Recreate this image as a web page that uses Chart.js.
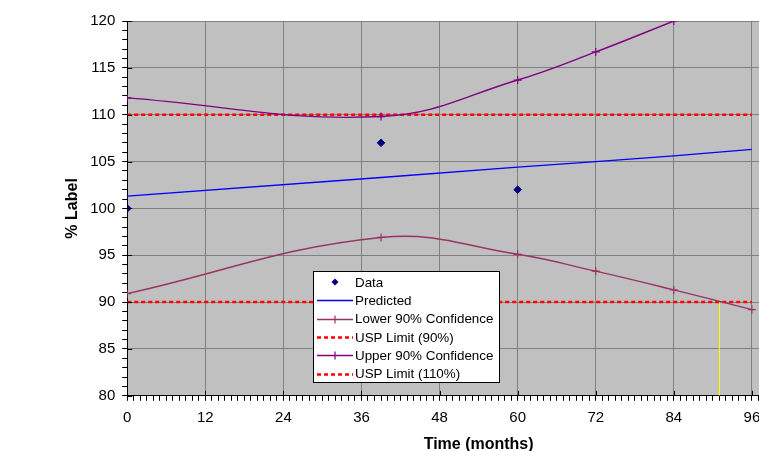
<!DOCTYPE html>
<html>
<head>
<meta charset="utf-8">
<script src="https://cdn.jsdelivr.net/npm/chart.js@4.4.1/dist/chart.umd.min.js"></script>
<style>
    html, body { margin: 0; padding: 0; background: #fff; overflow: hidden; }
    #wrap { position: relative; width: 759px; height: 451px; overflow: hidden; }
    #wrap canvas { position: absolute; left: 0; top: 0; }
    #legend {
        position: absolute; left: 313px; top: 271px; width: 187px; height: 112px;
        box-sizing: border-box; border: 1px solid #000; background: #fff;
        font-family: "Liberation Sans", Arial, sans-serif; font-size: 13.4px; color: #000;
        padding-top: 1px;
    }
    #legend .row { display: flex; align-items: center; height: 18.3px; }
    #legend canvas { position: static; display: block; margin: 0 2px 0 3px; }
</style>
</head>
<body>
<div id="wrap">
    <canvas id="chart" width="860" height="451"></canvas>
    <div id="legend"></div>
</div>
<script>
// Values
const timeMonths = [0, 39, 60, 72, 84, 96];
const dataTimes = [0, 39, 60];
const dataValues = [100, 107, 102];
const predictedValues = [101.3, 103.3, 104.4, 105.0, 105.6, 106.3];
const lowerConfidence = [90.9, 96.9, 95.1, 93.3, 91.3, 89.2];
const upperConfidence = [111.8, 109.8, 113.7, 116.7, 120.0, 123.3];
const uspLimitLow = [90, 90];
const uspLimitHigh = [110, 110];
const uspTimes = [0, 96];
const shelfLifeTimes = [91, 91];
const shelfLifeValues = [80, 90];

const colors = {
    data: '#000080',
    predicted: '#0000FF',
    lower: '#993366',
    upper: '#800080',
    usp: '#FF0000',
    shelf: '#FFFF00',
    grid: '#808080',
    plot: '#C0C0C0'
};

const toPoints = (xs, ys) => xs.map((x, i) => ({ x: x, y: ys[i] }));

const datasets = [
    {
        label: 'Data',
        data: toPoints(dataTimes, dataValues),
        showLine: false,
        pointStyle: 'rectRot',
        pointRadius: 3.8,
        backgroundColor: colors.data,
        borderColor: colors.data,
        borderWidth: 1
    },
    {
        label: 'Predicted',
        data: toPoints(timeMonths, predictedValues),
        borderColor: colors.predicted,
        borderWidth: 1.3,
        pointRadius: 0
    },
    {
        label: 'Lower 90% Confidence',
        data: toPoints(timeMonths, lowerConfidence),
        borderColor: colors.lower,
        borderWidth: 1.4,
        tension: 0.4,
        pointStyle: 'cross',
        pointRadius: 4,
        pointBorderColor: colors.lower,
        pointBorderWidth: 1.2
    },
    {
        label: 'USP Limit (90%)',
        data: toPoints(uspTimes, uspLimitLow),
        borderColor: colors.usp,
        borderWidth: 2.5,
        borderDash: [4, 3],
        pointRadius: 0
    },
    {
        label: 'Upper 90% Confidence',
        data: toPoints(timeMonths, upperConfidence),
        borderColor: colors.upper,
        borderWidth: 1.4,
        tension: 0.4,
        pointStyle: 'cross',
        pointRadius: 4,
        pointBorderColor: colors.upper,
        pointBorderWidth: 1.2
    },
    {
        label: 'USP Limit (110%)',
        data: toPoints(uspTimes, uspLimitHigh),
        borderColor: colors.usp,
        borderWidth: 2.5,
        borderDash: [4, 3],
        pointRadius: 0
    },
    {
        label: 'Shelf life',
        data: toPoints(shelfLifeTimes, shelfLifeValues),
        borderColor: colors.shelf,
        borderWidth: 1,
        pointRadius: 0
    }
];

// gray plot background
const plotBackground = {
    id: 'plotBackground',
    beforeDraw(chart) {
        const { ctx, chartArea } = chart;
        ctx.save();
        ctx.fillStyle = colors.plot;
        ctx.fillRect(chartArea.left, chartArea.top, chartArea.right - chartArea.left, chartArea.bottom - chartArea.top);
        ctx.restore();
    }
};

// major ticks cross the axis (inner half)
const crossTicks = {
    id: 'crossTicks',
    afterDraw(chart) {
        const { ctx, chartArea, scales } = chart;
        ctx.save();
        ctx.strokeStyle = '#000';
        ctx.lineWidth = 1;
        ctx.beginPath();
        scales.x.ticks.forEach(t => {
            if (t.value % 12 !== 0) return;
            const px = Math.round(scales.x.getPixelForValue(t.value)) + 0.5;
            ctx.moveTo(px, chartArea.bottom);
            ctx.lineTo(px, chartArea.bottom - 5);
        });
        scales.y.ticks.forEach(t => {
            if (t.value % 5 !== 0) return;
            const py = Math.round(scales.y.getPixelForValue(t.value)) + 0.5;
            ctx.moveTo(chartArea.left, py);
            ctx.lineTo(chartArea.left + 5, py);
        });
        ctx.stroke();
        ctx.restore();
    }
};

const tickFont = { family: '"Liberation Sans", Arial, sans-serif', size: 15 };
const titleFont = { family: '"Liberation Sans", Arial, sans-serif', size: 16, weight: 'bold' };

const chart = new Chart(document.getElementById('chart'), {
    type: 'line',
    data: { datasets: datasets },
    options: {
        responsive: false,
        animation: false,
        layout: { padding: { left: 52, right: 30, top: 21, bottom: -3 } },
        plugins: {
            legend: { display: false },
            tooltip: { enabled: false }
        },
        scales: {
            x: {
                type: 'linear',
                min: 0,
                max: 108,
                border: { display: true, color: '#000', width: 1 },
                grid: {
                    color: c => (c.tick && c.tick.value % 12 === 0 && c.tick.value !== 0) ? colors.grid : 'transparent',
                    tickColor: '#000',
                    tickLength: 5
                },
                ticks: {
                    stepSize: 1,
                    autoSkip: false,
                    maxTicksLimit: 500,
                    maxRotation: 0,
                    padding: 8,
                    color: '#000',
                    font: tickFont,
                    callback: v => (v % 12 === 0 ? String(v) : '')
                },
                title: {
                    display: true,
                    text: 'Time (months)',
                    color: '#000',
                    font: titleFont,
                    padding: { top: 0, bottom: 0 }
                }
            },
            y: {
                min: 80,
                max: 120,
                border: { display: true, color: '#000', width: 1 },
                grid: {
                    color: c => (c.tick && c.tick.value % 5 === 0 && c.tick.value !== 80) ? colors.grid : 'transparent',
                    tickColor: '#000',
                    tickLength: 5
                },
                ticks: {
                    stepSize: 1,
                    autoSkip: false,
                    maxTicksLimit: 500,
                    padding: 7,
                    color: '#000',
                    font: tickFont,
                    callback: v => (v % 5 === 0 ? String(v) : '')
                },
                title: {
                    display: true,
                    text: '% Label',
                    color: '#000',
                    font: titleFont,
                    padding: { top: 11, bottom: 1 }
                }
            }
        }
    },
    plugins: [plotBackground, crossTicks]
});

// HTML legend placed inside the plot, built from the datasets
function buildLegend() {
    const box = document.getElementById('legend');
    datasets.slice(0, 6).forEach(ds => {
        const row = document.createElement('div');
        row.className = 'row';
        const c = document.createElement('canvas');
        c.width = 36;
        c.height = 12;
        const g = c.getContext('2d');
        if (ds.showLine === false) {
            g.fillStyle = ds.backgroundColor;
            g.beginPath();
            g.moveTo(18, 2.5); g.lineTo(21.5, 6); g.lineTo(18, 9.5); g.lineTo(14.5, 6);
            g.closePath();
            g.fill();
        } else {
            g.strokeStyle = ds.borderColor;
            g.lineWidth = ds.borderWidth > 2 ? 2.5 : 1.3;
            if (ds.borderDash) g.setLineDash(ds.borderDash);
            g.beginPath();
            g.moveTo(0, 6.5); g.lineTo(36, 6.5);
            g.stroke();
            if (ds.pointStyle === 'cross') {
                g.setLineDash([]);
                g.lineWidth = 1.2;
                g.beginPath();
                g.moveTo(18, 2.5); g.lineTo(18, 10.5);
                g.moveTo(14, 6.5); g.lineTo(22, 6.5);
                g.stroke();
            }
        }
        const label = document.createElement('span');
        label.textContent = ds.label;
        row.appendChild(c);
        row.appendChild(label);
        box.appendChild(row);
    });
}
buildLegend();
</script>
</body>
</html>
